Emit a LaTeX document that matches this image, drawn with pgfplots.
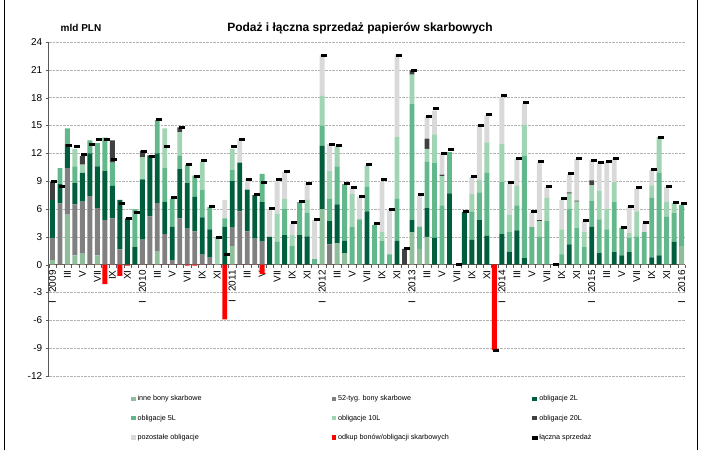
\documentclass[border=0pt]{standalone}
\usepackage{fontspec}
\setmainfont{Liberation Sans}
\usepackage{pgfplots}
\usepackage{pgfplotstable}
\pgfplotsset{compat=1.18}
\definecolor{cinne}{HTML}{8FBF9A}
\definecolor{cbony}{HTML}{808080}
\definecolor{cdwa}{HTML}{005E3C}
\definecolor{cpiec}{HTML}{63B88B}
\definecolor{cdziesiec}{HTML}{A0D4B2}
\definecolor{cdwadziescia}{HTML}{404040}
\definecolor{cpoz}{HTML}{D9D9D9}
\pgfplotsset{sqlegend/.style={legend image code/.code={\fill[##1] (0pt,-2.2pt) rectangle (4.5pt,2.2pt);}}}

% monthly data, I 2009 = 0 ... I 2016 = 84
\pgfplotstableread{
x inne b52 o2 o5 o10 o20 poz red tot
0 0.5 2.4 4.1 0 0 1.9 0 0 9.0
1 0 6.6 2.1 1.7 0 0 0 0 8.4
2 5.4 5.0 2.6 1.7 0 0 0 0 12.8
3 1.0 5.5 2.3 1.8 1.9 0 0 0 12.7
4 1.2 5.6 3.1 0 0.9 0.9 0 0 11.9
5 0 7.4 4.6 1.4 0 0 0 0 13.0
6 1.0 5.1 4.5 2.5 0 0 0 0 13.5
7 0 4.8 5.3 3.6 0 0 0 -2.1 13.5
8 0 5.0 3.5 2.5 0 2.4 0 0 11.3
9 0 1.65 5.35 0 0 0 0 -1.2 6.6
10 0 0 5.0 0 0 0 0 -0.1 5.0
11 0 0 1.9 4.1 0 0 0 0 5.6
12 0 2.7 6.5 0 2.4 0.7 0 0 12.25
13 0 5.2 6.6 0 0 0 0 0 11.7
14 1.4 5.25 5.35 3.6 0 0 0 0 15.7
15 0 3.3 3.5 3.6 4.3 0 0 0 12.7
16 0 0.5 3.6 3.0 0 0 0 0 7.2
17 0 5.0 5.3 1.5 2.5 0.5 0 0 14.8
18 0 3.9 4.9 2.0 0 0 0 -0.1 10.8
19 0 3.6 3.7 2.3 0 0 0 -0.1 9.5
20 0 1.1 4.0 3.0 3.0 0 0 0 11.2
21 0 0.75 3.05 2.4 0 0 0 0 6.3
22 0 0 0 0 2.9 0 0 0 2.95
23 0 0 4.1 0.9 0 0 2.0 -5.9 1.1
24 2.0 2.0 5.0 1.2 2.3 0 0 0 12.7
25 0 5.75 5.25 0 0 0 2.5 0 13.5
26 0 3.6 4.5 0 0 0 1.1 0 9.2
27 0 2.8 4.7 0 0 0 0 0 7.6
28 0 2.5 4.25 3.05 0 0 0 -1.0 8.9
29 0 0 3.0 0 0 0 3.0 0 6.1
30 0 0 0 2.45 3.05 0 3.5 0 9.2
31 0 0 3.2 2.8 1.1 0 2.9 0 10.1
32 0 0 0 2.0 1.2 0 1.2 0 4.5
33 0 0 3.2 3.55 0 0 0 0 6.8
34 0 0 3.05 2.55 1.4 0 1.8 0 8.8
35 0 0 0 0.6 0 0 4.2 0 4.9
36 6.0 0 6.8 2.2 3.2 0 4.4 0 22.6
37 0 2.2 2.5 2.4 3.0 0 2.9 0 13.0
38 2.3 0 4.2 4.1 2.15 0 0 0 12.9
39 1.25 0 1.35 6.1 0 0 0 0 8.8
40 0 0 0 4.1 3.5 0 0.7 0 8.3
41 0 0 0 4.9 0 0 2.4 0 7.4
42 0 0 5.75 2.65 2.3 0 0 0 10.75
43 0 0 0 4.3 0 0 0 0 4.4
44 0 0 0 2.55 0.95 0 5.4 0 9.15
45 0 0 0 1.1 0 0 4.75 0 5.9
46 0 0 2.6 4.5 6.7 0 8.8 0 22.6
47 0 0 0 0 0 1.7 0 0 1.75
48 3.5 0 1.3 12.5 3.2 0.45 0 0 20.95
49 1.7 0 0 2.4 0 0 3.3 0 7.55
50 3.0 0 3.1 5.0 1.4 1.1 2.4 0 16.0
51 0 0 2.9 8.1 3.05 0 2.55 0 16.8
52 0 0 0 6.4 3.15 0.15 2.3 0 12.0
53 0 0 7.7 4.45 0 0 0 0 12.4
54 0 0 0 0 0 0 0 0 0
55 0 0 5.7 0 0 0 0 0 5.7
56 0 0 2.7 3.0 1.9 0 1.85 0 9.5
57 0 0 4.8 3.0 1.35 0 5.85 0 15.0
58 0 0 3.1 6.8 3.3 0 2.9 0 16.2
59 0 0 0 0 0 0 0 -9.2 -9.2
60 0 0 3.3 5.6 4.1 0 5.05 0 18.2
61 0 0 1.4 2.1 1.9 0 3.3 0 8.85
62 0 0 3.7 2.7 2.1 0 2.9 0 11.4
63 0 0 0.7 11.0 3.4 0 2.3 0 17.5
64 0 0 0 4.05 0 0 1.65 0 5.7
65 0 0 0 3.0 1.7 0.1 6.2 0 11.1
66 0 0 0 4.7 2.5 0 1.2 0 8.45
67 0 0 0 0 0 0 0 0 0
68 0 0 0 1.1 2.7 0 3.2 0 7.1
69 0 0 2.2 3.8 1.65 0.15 1.9 0 9.8
70 0 0 0 4.0 2.8 0.1 4.5 0 11.45
71 0 0 0 1.9 1.6 0 1.2 0 4.8
72 0 0 4.1 2.8 1.65 0.55 2.15 0 11.25
73 0 0 1.25 3.65 3.1 0 3.0 0 11.0
74 0 0 0 3.8 2.2 0 5.1 0 11.1
75 0 0 1.35 5.4 2.15 0 2.5 0 11.4
76 0 0 1.0 3.0 0 0 0 0 4.05
77 0 0 1.35 1.55 0.5 0 2.9 0 6.3
78 0 0 0 3.05 2.7 0 2.45 0 8.3
79 0 0 0 3.5 0 0 1.0 0 4.6
80 0 0 0.8 6.4 1.35 0 1.65 0 10.25
81 0 0 1.0 8.9 3.85 0 0 0 13.75
82 0 0 0 5.15 1.65 0 1.6 0 8.4
83 0 0 2.5 3.05 1.1 0 0 0 6.7
84 2.0 0 0 4.45 0 0 0 0 6.6
}\data

\newcommand{\yr}[1]{I\hspace{8pt}#1}

\begin{document}
\begin{tikzpicture}[x=1pt,y=1pt]
\path (0,0) rectangle (702,450);
\draw[line width=0.8pt] (4.5,0) -- (4.5,450);
\draw[line width=0.8pt] (697,0) -- (697,450);
\node[font=\bfseries\fontsize{12}{14}\selectfont] at (360,422) {Podaż i łączna sprzedaż papierów skarbowych};
\node[font=\bfseries\fontsize{10}{12}\selectfont] at (81,422) {mld PLN};

\begin{axis}[
    at={(48.7pt,74.4pt)}, anchor=south west,
    scale only axis, width=636.7pt, height=333.9pt,
    xmin=-0.5, xmax=84.5, ymin=-12, ymax=24,
    ybar stacked, bar width=0.65,
    axis y line*=left, axis x line*=middle,
    axis line style={gray!70!black, line width=0.5pt},
    ytick={-12,-9,...,24},
    xtick={0,2,...,84},
    xticklabels={\yr{2009},III,V,VII,IX,XI,\yr{2010},III,V,VII,IX,XI,\yr{2011},III,V,VII,IX,XI,\yr{2012},III,V,VII,IX,XI,\yr{2013},III,V,VII,IX,XI,\yr{2014},III,V,VII,IX,XI,\yr{2015},III,V,VII,IX,XI,\yr{2016}},
    minor xtick={-0.5,0.5,...,84.5},
    major x tick style={draw=none},
    minor x tick style={gray!70!black},
    tick align=outside,
    major tick length=3pt, minor tick length=3pt,
    ytick style={gray!70!black},
    xticklabel style={rotate=90, anchor=east, font=\fontsize{10}{12}\selectfont, inner sep=2.5pt},
    yticklabel style={font=\fontsize{10}{12}\selectfont},
    /pgf/number format/assume math mode=true,
    ymajorgrids, grid style={gray!60, densely dotted, line width=0.6pt},
    legend columns=3,
    legend cell align=left,
    legend style={at={(0.129,-0.052)}, anchor=north west, draw=none, fill=none,
        font=\fontsize{7.2}{9}\selectfont, row sep=8.5pt, inner sep=0pt,
        /tikz/every even column/.append style={column sep=0pt}},
]
\addplot[fill=cinne, draw=none, sqlegend] table[x=x,y=inne]{\data};
\addlegendentry{\makebox[192pt][l]{inne bony skarbowe}}
\addplot[fill=cbony, draw=none, sqlegend] table[x=x,y=b52]{\data};
\addlegendentry{\makebox[192pt][l]{52-tyg. bony skarbowe}}
\addplot[fill=cdwa, draw=none, sqlegend] table[x=x,y=o2]{\data};
\addlegendentry{\makebox[100pt][l]{obligacje 2L}}
\addplot[fill=cpiec, draw=none, sqlegend] table[x=x,y=o5]{\data};
\addlegendentry{obligacje 5L}
\addplot[fill=cdziesiec, draw=none, sqlegend] table[x=x,y=o10]{\data};
\addlegendentry{obligacje 10L}
\addplot[fill=cdwadziescia, draw=none, sqlegend] table[x=x,y=o20]{\data};
\addlegendentry{obligacje 20L}
\addplot[fill=cpoz, draw=none, sqlegend] table[x=x,y=poz]{\data};
\addlegendentry{pozostałe obligacje}
\addlegendimage{fill=red, draw=none, sqlegend}
\addlegendentry{odkup bonów/obligacji skarbowych}
\addlegendimage{legend image code/.code={\fill[black] (0pt,-1.3pt) rectangle (5pt,1.3pt);}}
\addlegendentry{łączna sprzedaż}
\end{axis}

\begin{axis}[
    at={(48.7pt,74.4pt)}, anchor=south west,
    scale only axis, width=636.7pt, height=333.9pt,
    xmin=-0.5, xmax=84.5, ymin=-12, ymax=24,
    axis lines=none, ticks=none, clip=false,
]
\addplot[ybar, bar width=0.65, fill=red, draw=none] table[x=x,y=red]{\data};
\addplot[only marks, mark=-, mark size=3pt, mark options={line width=3pt, black, xshift=2pt}] table[x=x,y=tot]{\data};
\end{axis}
\end{tikzpicture}
\end{document}
